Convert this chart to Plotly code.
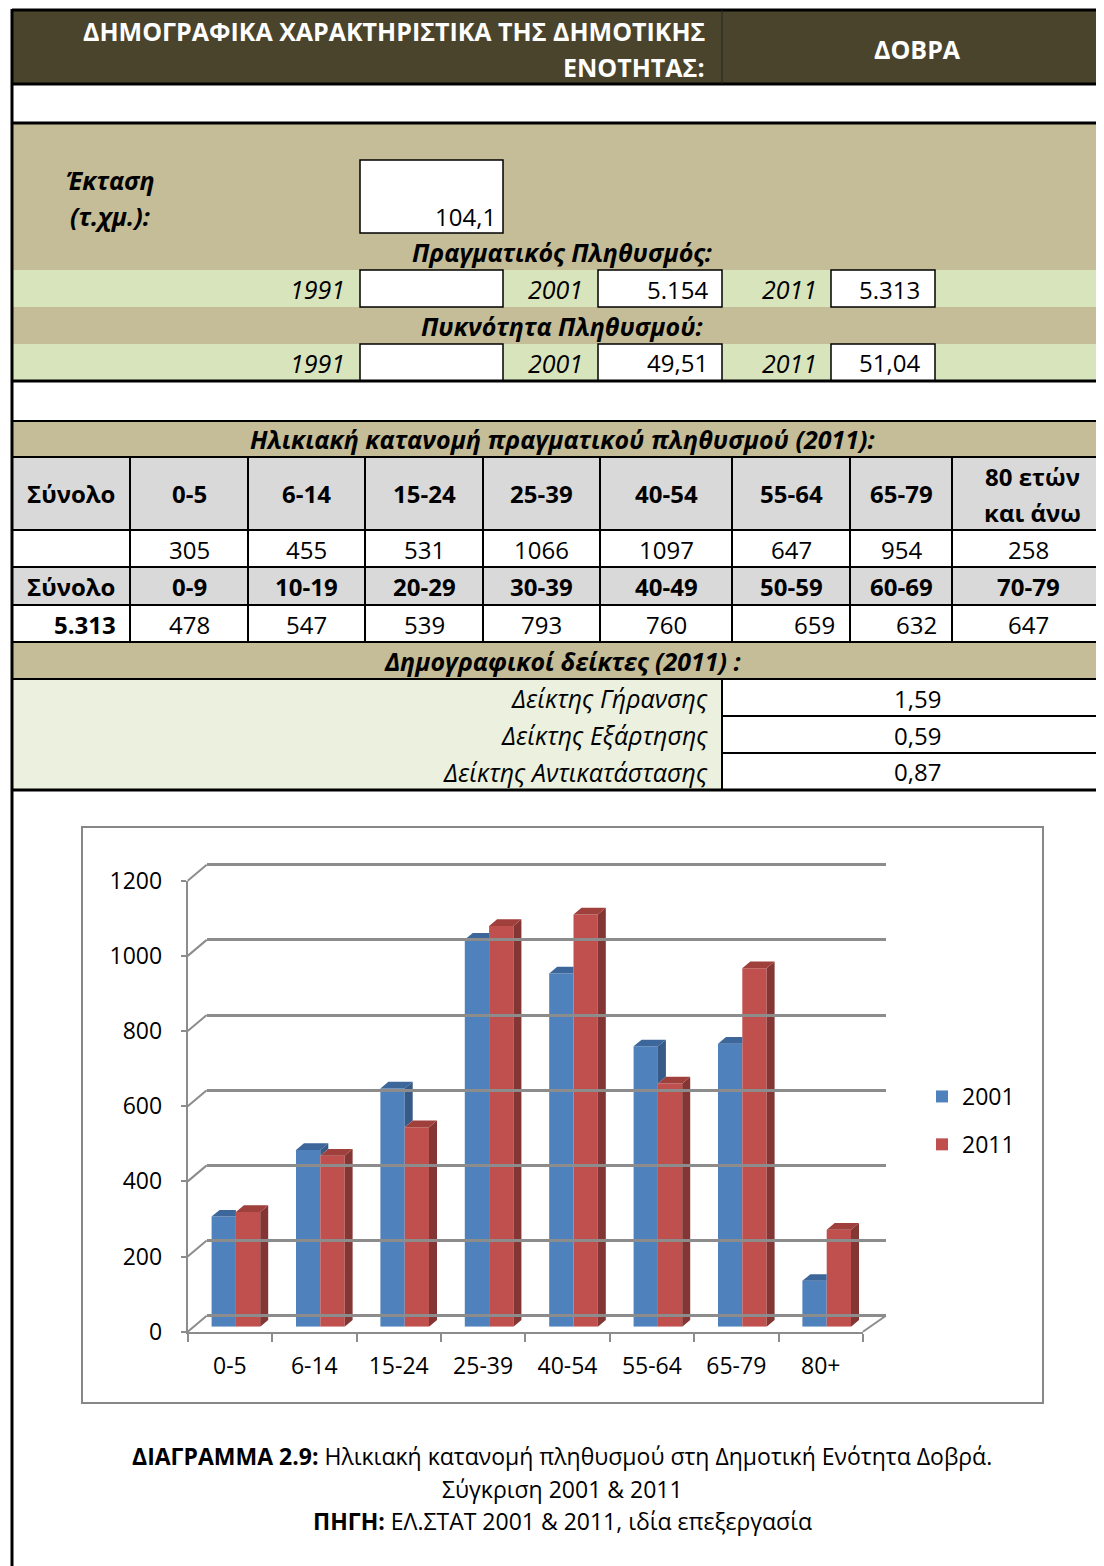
import plotly.graph_objects as go

W, H = 1104, 1566          # reference page size
OFF = 8                    # browser body margin: the figure starts 8px in
FW, FH = W - OFF, H - OFF  # figure size
FONT = "Open Sans"

# ---------------- data ----------------
categories = ["0-5", "6-14", "15-24", "25-39", "40-54", "55-64", "65-79", "80+"]
pop_2001 = [293, 470, 634, 1030, 940, 746, 753, 122]
pop_2011 = [305, 455, 531, 1066, 1097, 647, 954, 258]
y_ticks = [0, 200, 400, 600, 800, 1000, 1200]

age_bands_a = ["Σύνολο", "0-5", "6-14", "15-24", "25-39", "40-54", "55-64", "65-79", "80 ετών<br>και άνω"]
age_bands_b = ["Σύνολο", "0-9", "10-19", "20-29", "30-39", "40-49", "50-59", "60-69", "70-79"]
age_values_b = [478, 547, 539, 793, 760, 659, 632, 647]
total_2011 = "5.313"

area_km2 = "104,1"
pop_years = ["1991", "2001", "2011"]
pop_real = ["", "5.154", "5.313"]
pop_density = ["", "49,51", "51,04"]

indicator_names = ["Δείκτης Γήρανσης", "Δείκτης Εξάρτησης", "Δείκτης Αντικατάστασης"]
indicator_values = ["1,59", "0,59", "0,87"]

# ---------------- helpers (page pixels -> paper) ----------------
def px(x):
    return (x - OFF) / FW


def py(y):
    return 1 - (y - OFF) / FH


shapes = []
annotations = []


def rect(x0, y0, x1, y1, fill=None, lc=None, lw=0):
    shapes.append(dict(type="rect", xref="paper", yref="paper",
                       x0=px(x0), x1=px(x1), y0=py(y0), y1=py(y1),
                       fillcolor=fill if fill else "rgba(0,0,0,0)",
                       line=dict(color=lc if lc else "rgba(0,0,0,0)", width=lw),
                       layer="below"))


def line(x0, y0, x1, y1, color="black", w=2):
    shapes.append(dict(type="line", xref="paper", yref="paper",
                       x0=px(x0), x1=px(x1), y0=py(y0), y1=py(y1),
                       line=dict(color=color, width=w), layer="below"))


def txt(x, y, s, anchor="center", size=24, color="black", bold=False, italic=False):
    if italic:
        s = f"<i>{s}</i>"
    if bold:
        s = f"<b>{s}</b>"
    annotations.append(dict(x=px(x), y=py(y), xref="paper", yref="paper", text=s,
                            showarrow=False, xanchor=anchor, yanchor="middle",
                            font=dict(family=FONT, size=size, color=color)))


TAN = "#C4BD97"
GREEN = "#D8E4BC"
LGREEN = "#EBF1DE"
GREY = "#D9D9D9"
DARK = "#4A442D"
RIGHT = 1110
TS = 24   # table font size (upright)
TI = 25   # table font size (italic)

# ---------------- table fills ----------------
rect(12, 10, RIGHT, 84, DARK)
rect(12, 123, RIGHT, 270, TAN)
rect(12, 270, RIGHT, 307, GREEN)
rect(12, 307, RIGHT, 344, TAN)
rect(12, 344, RIGHT, 381, GREEN)
rect(12, 421, RIGHT, 457, TAN)
rect(12, 457, RIGHT, 530, GREY)
rect(12, 567, RIGHT, 605, GREY)
rect(12, 642, RIGHT, 679, TAN)
rect(12, 679, 722, 790, LGREEN)

# value boxes
rect(360, 160, 503, 233, "white", "black", 1.5)
for yy0, yy1 in [(270, 307), (344, 381)]:
    rect(360, yy0, 503, yy1, "white", "black", 1.5)
    rect(598, yy0, 722, yy1, "white", "black", 1.5)
    rect(831, yy0, 935, yy1, "white", "black", 1.5)

# ---------------- table lines ----------------
line(12, 9, 12, H + 10, w=3)
for yy, ww in [(10, 3), (84, 3), (123, 3), (381, 3), (421, 2), (457, 2), (530, 2),
               (567, 2), (605, 2), (642, 2), (679, 2), (790, 3)]:
    line(12, yy, RIGHT, yy, w=ww)
line(722, 10, 722, 84, color="#222222", w=1)
col_bounds = [12, 130, 248, 365, 483, 600, 732, 850, 952]
for xb in col_bounds:
    line(xb, 457, xb, 642, w=2)
line(722, 679, 722, 790, w=2)
line(722, 716, RIGHT, 716, w=2)
line(722, 753, RIGHT, 753, w=2)

# ---------------- table texts ----------------
txt(707, 31, "ΔΗΜΟΓΡΑΦΙΚΑ ΧΑΡΑΚΤΗΡΙΣΤΙΚΑ ΤΗΣ ΔΗΜΟΤΙΚΗΣ", "right", 25, "white", bold=True)
txt(707, 67, "ΕΝΟΤΗΤΑΣ:", "right", 25, "white", bold=True)
txt(917, 49, "ΔΟΒΡΑ", "center", 25, "white", bold=True)

txt(64, 180, "Έκταση", "left", TI, bold=True, italic=True)
txt(68, 216, "(τ.χμ.):", "left", TI, bold=True, italic=True)
txt(498, 216, area_km2, "right", TS)

txt(562, 252, "Πραγματικός Πληθυσμός:", "center", TI, bold=True, italic=True)
txt(562, 326, "Πυκνότητα Πληθυσμού:", "center", TI, bold=True, italic=True)
year_right = [347, 585, 819]
for row_y, vals in [(289, pop_real), (363, pop_density)]:
    for yr, xr in zip(pop_years, year_right):
        txt(xr, row_y, yr, "right", TI, italic=True)
    txt(710, row_y, vals[1], "right", TS)
    txt(922, row_y, vals[2], "right", TS)

txt(562, 439, "Ηλικιακή κατανομή πραγματικού πληθυσμού (2011):", "center", TI, bold=True, italic=True)
col_centers = [(a + b) / 2 for a, b in zip(col_bounds, col_bounds[1:] + [1104])]
for i, lab in enumerate(age_bands_a):
    if "<br>" in lab:
        top, bot = lab.split("<br>")
        txt(1032, 476, top, "center", TS, bold=True)
        txt(1032, 512, bot, "center", TS, bold=True)
    else:
        txt(col_centers[i], 493, lab, "center", TS, bold=True)
for i, v in enumerate(pop_2011):
    txt(col_centers[i + 1], 549, f"{v}", "center", TS)
for i, lab in enumerate(age_bands_b):
    txt(col_centers[i], 586, lab, "center", TS, bold=True)
txt(118, 624, total_2011, "right", TS, bold=True)
right_aligned_cols = {5: 837, 6: 939}
for i, v in enumerate(age_values_b):
    if i in right_aligned_cols:
        txt(right_aligned_cols[i], 624, f"{v}", "right", TS)
    else:
        txt(col_centers[i + 1], 624, f"{v}", "center", TS)

txt(562, 661, "Δημογραφικοί δείκτες (2011) :", "center", TI, bold=True, italic=True)
for k, (nm, vv) in enumerate(zip(indicator_names, indicator_values)):
    yy = 698 + 37 * k
    txt(710, yy, nm, "right", TI, italic=True)
    txt(917, yy, vv, "center", TS)

# ---------------- chart frame & caption ----------------
rect(82, 827, 1043, 1403, None, "#878787", 2)
txt(562, 1456, "<b>ΔΙΑΓΡΑΜΜΑ 2.9:</b> Ηλικιακή κατανομή πληθυσμού στη Δημοτική Ενότητα Δοβρά.", "center", 23)
txt(562, 1489, "Σύγκριση 2001 &amp; 2011", "center", 23)
txt(562, 1521, "<b>ΠΗΓΗ:</b> ΕΛ.ΣΤΑΤ 2001 &amp; 2011, ιδία επεξεργασία", "center", 23)

# ---------------- chart geometry (page pixels) ----------------
FRONT_X0, FRONT_X1, FRONT_Y0 = 187.7, 862.9, 1331.7     # front plane (axes)
BAR_DX, BAR_DY = 6.0, -5.0                              # bar plane offset
BACK_DX, BACK_DY = 19.0, -16.0                          # back wall offset
YMAX = 1200
PX_PER_UNIT = 451.0 / YMAX
FRONT_Y1 = FRONT_Y0 - YMAX * PX_PER_UNIT
GRID = "#8C8C8C"
PAD = 12   # back wall axis padding (data units) so edge gridlines are drawn
AX_FS = 23

# diagonal connectors between front axis and back wall
for v in y_ticks:
    yf = FRONT_Y0 - v * PX_PER_UNIT
    line(FRONT_X0, yf, FRONT_X0 + BACK_DX, yf + BACK_DY, GRID, 2)
line(FRONT_X1, FRONT_Y0, FRONT_X1 + BACK_DX + 4, FRONT_Y0 + BACK_DY, GRID, 2)

# ---------------- 3D faces (computed from data) ----------------
BW = 0.288                      # bar width in category units
cat_px = (FRONT_X1 - FRONT_X0) / len(categories)
DXU = 8.0 / cat_px              # depth in x units
DYU = 6.7 / PX_PER_UNIT         # depth in y units


def poly_trace(polys, color):
    xs, ys = [], []
    for p in polys:
        for (a, b) in p + [p[0]]:
            xs.append(a)
            ys.append(b)
        xs.append(None)
        ys.append(None)
    return go.Scatter(x=xs, y=ys, mode="lines", fill="toself", fillcolor=color,
                      line=dict(width=0, color=color), hoverinfo="skip",
                      showlegend=False, xaxis="x", yaxis="y")


blue_tops, blue_sides, red_sides, red_tops = [], [], [], []
for i, (b, r) in enumerate(zip(pop_2001, pop_2011)):
    xl, xm, xr = i - BW, i, i + BW
    if r >= b:
        blue_tops.append([(xl, b), (xm, b), (xm, b + DYU), (xl + DXU, b + DYU)])
    else:
        blue_tops.append([(xl, b), (xm, b), (xm + DXU, b + DYU), (xl + DXU, b + DYU)])
        blue_sides.append([(xm, r), (xm, b), (xm + DXU, b + DYU), (xm + DXU, r + DYU)])
    red_sides.append([(xr, 0), (xr, r), (xr + DXU, r + DYU), (xr + DXU, DYU)])
    red_tops.append([(xm, r), (xr, r), (xr + DXU, r + DYU), (xm + DXU, r + DYU)])

fig = go.Figure()

# front faces (bars)
fig.add_trace(go.Bar(x=list(range(len(categories))), y=pop_2001, name="2001",
                     width=BW, offset=-BW, marker=dict(color="#4F81BD", line=dict(width=0)),
                     legendgroup="a", xaxis="x", yaxis="y"))
fig.add_trace(go.Bar(x=list(range(len(categories))), y=pop_2011, name="2011",
                     width=BW, offset=0, marker=dict(color="#C0504D", line=dict(width=0)),
                     legendgroup="b", xaxis="x", yaxis="y"))
fig.add_trace(poly_trace(blue_tops, "#3D679B"))
fig.add_trace(poly_trace(blue_sides, "#375A87"))
fig.add_trace(poly_trace(red_sides, "#843634"))
fig.add_trace(poly_trace(red_tops, "#A0403D"))

# front axes subplot (labels) and back wall subplot (gridlines)
fig.add_trace(go.Scatter(x=categories, y=[None] * len(categories), mode="markers",
                         showlegend=False, hoverinfo="skip", xaxis="x2", yaxis="y2"))
fig.add_trace(go.Scatter(x=[None], y=[None], mode="markers", showlegend=False,
                         hoverinfo="skip", xaxis="x3", yaxis="y3"))

BACK_Y0 = FRONT_Y0 + BACK_DY
fig.update_layout(
    width=FW, height=FH,
    margin=dict(l=0, r=0, t=0, b=0, pad=0, autoexpand=False),
    paper_bgcolor="white", plot_bgcolor="rgba(0,0,0,0)",
    barmode="overlay",
    shapes=shapes, annotations=annotations,
    font=dict(family=FONT, size=AX_FS, color="black"),
    showlegend=True,
    legend=dict(x=px(922), y=py(1075), xanchor="left", yanchor="top",
                font=dict(family=FONT, size=AX_FS, color="black"),
                tracegroupgap=15, bgcolor="rgba(0,0,0,0)", traceorder="grouped"),
    xaxis=dict(domain=[px(FRONT_X0 + BAR_DX), px(FRONT_X1 + BAR_DX)], range=[-0.5, 7.5],
               visible=False, anchor="y", fixedrange=True),
    yaxis=dict(domain=[py(FRONT_Y0 + BAR_DY), py(FRONT_Y1 + BAR_DY)], range=[0, YMAX],
               visible=False, anchor="x", fixedrange=True),
    xaxis2=dict(domain=[px(FRONT_X0), px(FRONT_X1)], anchor="y2", type="category",
                categoryorder="array", categoryarray=categories, range=[-0.5, 7.5],
                tickson="boundaries", ticks="outside", ticklen=8, tickwidth=2, tickcolor=GRID,
                showline=True, linecolor=GRID, linewidth=2, showgrid=False,
                tickfont=dict(family=FONT, size=AX_FS, color="black"), ticklabelstandoff=13,
                fixedrange=True),
    yaxis2=dict(domain=[py(FRONT_Y0), py(FRONT_Y1)], anchor="x2", range=[0, YMAX],
                tickvals=y_ticks, ticks="outside", ticklen=5, tickwidth=2, tickcolor=GRID,
                showline=True, linecolor=GRID, linewidth=2, showgrid=False, zeroline=False,
                tickfont=dict(family=FONT, size=AX_FS, color="black"), ticklabelstandoff=14,
                fixedrange=True),
    xaxis3=dict(domain=[px(FRONT_X0 + BACK_DX), px(FRONT_X1 + BACK_DX + 4)], range=[0, 1],
                visible=False, anchor="y3", fixedrange=True),
    yaxis3=dict(domain=[py(BACK_Y0 + PAD * PX_PER_UNIT),
                        py(BACK_Y0 - (YMAX + PAD) * PX_PER_UNIT)],
                range=[-PAD, YMAX + PAD],
                tickvals=y_ticks, showticklabels=False, ticks="", showgrid=True,
                gridcolor=GRID, gridwidth=2.5, zeroline=True, zerolinecolor=GRID,
                zerolinewidth=2.5, showline=False, anchor="x3", fixedrange=True),
)

fig.write_html("out.html", config={"displayModeBar": False})
